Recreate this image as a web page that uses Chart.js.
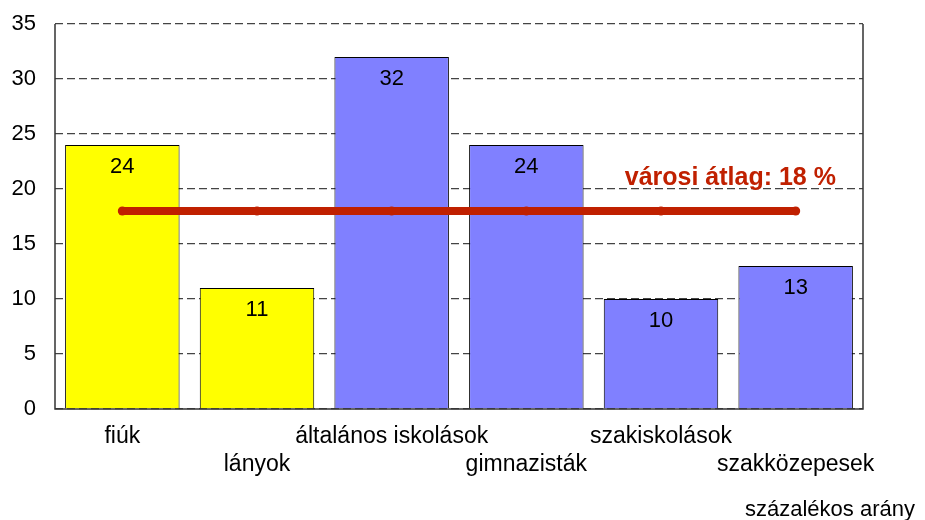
<!DOCTYPE html>
<html>
<head>
<meta charset="utf-8">
<script src="https://cdn.jsdelivr.net/npm/chart.js@4/dist/chart.umd.min.js"></script>
<style>
    html, body { margin: 0; padding: 0; background: #fff; }
    #wrap { width: 925px; height: 520px; }
</style>
</head>
<body>
<div id="wrap"><canvas id="chart"></canvas></div>
<script>
// Adatok
const kategoriak = ['fiúk', 'lányok', 'általános iskolások', 'gimnazisták', 'szakiskolások', 'szakközepesek'];
const ertekek = [24, 11, 32, 24, 10, 13];
const atlag = [18, 18, 18, 18, 18, 18];
const atlagFelirat = 'városi átlag: 18 %';
const tengelyFelirat = 'százalékos arány';
const yTicks = [0, 5, 10, 15, 20, 25, 30, 35];

const sarga = '#FFFF00';
const kek = '#8080FF';
const piros = '#C02000';
const betu = '"Liberation Sans", Arial, sans-serif';

// Felirat plugin: értékek az oszlopokon, átlag felirat, tengely felirat
const feliratok = {
    id: 'feliratok',
    afterDatasetsDraw(chart) {
        const ctx = chart.ctx;
        const meta = chart.getDatasetMeta(1);
        ctx.save();
        ctx.fillStyle = '#000';
        ctx.font = '22px ' + betu;
        ctx.textAlign = 'center';
        ctx.textBaseline = 'middle';
        meta.data.forEach((bar, i) => {
            ctx.fillText(String(ertekek[i]), bar.x, bar.y + 22);
        });

        const x = chart.scales.x.getPixelForValue(4.5);
        const y = chart.scales.y.getPixelForValue(21);
        ctx.fillStyle = piros;
        ctx.font = 'bold 25px ' + betu;
        ctx.fillText(atlagFelirat, x + 2, y);

        ctx.fillStyle = '#000';
        ctx.font = '22px ' + betu;
        ctx.textAlign = 'left';
        ctx.fillText(tengelyFelirat, 745, 510);
        ctx.restore();
    }
};

// Keret a rajzterület köré
const keret = {
    id: 'keret',
    beforeDatasetsDraw(chart) {
        const { ctx, chartArea: a } = chart;
        ctx.save();
        ctx.strokeStyle = '#333';
        ctx.lineWidth = 1.5;
        ctx.beginPath();
        ctx.moveTo(a.left, a.top);
        ctx.lineTo(a.left, a.bottom);
        ctx.lineTo(a.right, a.bottom);
        ctx.lineTo(a.right, a.top);
        ctx.stroke();
        ctx.restore();
    }
};

// Feliratok felváltva két sorban
const xCimkek = kategoriak.map((k, i) => i % 2 === 0 ? [k] : ['', k]);

new Chart(document.getElementById('chart'), {
    data: {
        labels: xCimkek,
        datasets: [{
            type: 'line',
            data: atlag,
            borderColor: piros,
            borderWidth: 8,
            borderCapStyle: 'round',
            pointRadius: 4.5,
            pointBorderWidth: 0,
            pointBackgroundColor: piros,
            order: 0
        }, {
            type: 'bar',
            data: ertekek,
            backgroundColor: [sarga, sarga, kek, kek, kek, kek],
            borderColor: '#000',
            borderWidth: 1,
            barPercentage: 0.85,
            categoryPercentage: 1,
            order: 1
        }]
    },
    options: {
        responsive: true,
        maintainAspectRatio: false,
        animation: false,
        layout: { padding: { top: 24, right: 62, left: 0, bottom: 0 } },
        plugins: {
            legend: { display: false },
            tooltip: { enabled: false }
        },
        scales: {
            x: {
                grid: { display: false, drawTicks: false },
                border: { display: false },
                ticks: {
                    color: '#000',
                    font: { family: betu, size: 23, lineHeight: 1.22 },
                    padding: 14,
                    maxRotation: 0,
                    autoSkip: false
                },
                afterFit(scale) { scale.height = 111; }
            },
            y: {
                min: 0,
                max: 35,
                afterBuildTicks(scale) { scale.ticks = yTicks.map(v => ({ value: v })); },
                grid: {
                    color: '#444',
                    lineWidth: 1.3,
                    drawTicks: false
                },
                border: { display: false, dash: [8, 4] },
                ticks: {
                    color: '#000',
                    font: { family: betu, size: 22 },
                    padding: 19
                },
                afterFit(scale) {
                    scale.width = 55;
                    scale.paddingTop = 0;
                    scale.paddingBottom = 0;
                }
            }
        }
    },
    plugins: [feliratok, keret]
});
</script>
</body>
</html>
